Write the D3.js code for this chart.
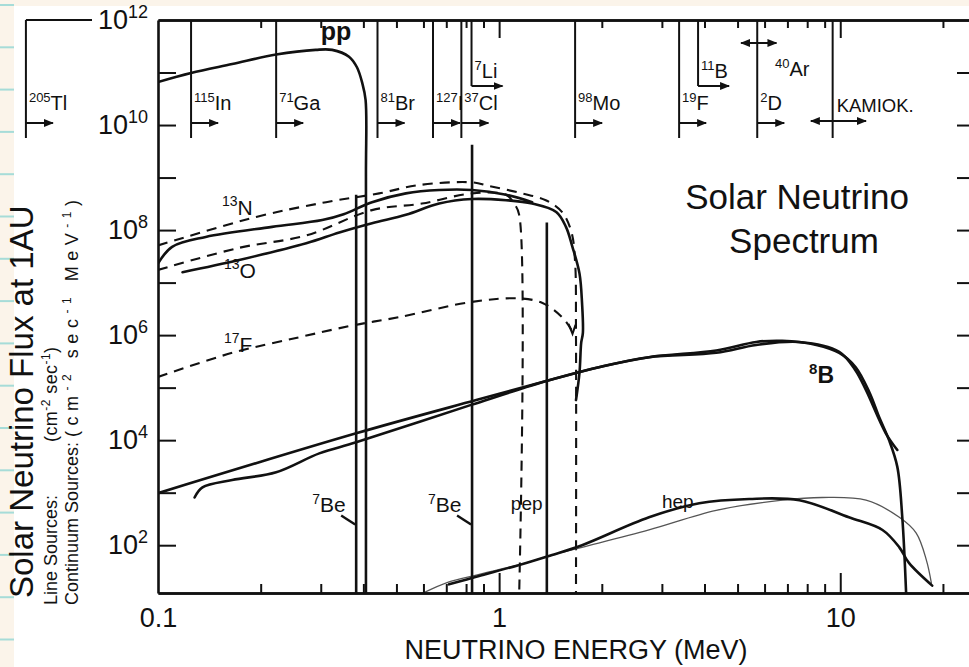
<!DOCTYPE html>
<html>
<head>
<meta charset="utf-8">
<script src="https://cdn.jsdelivr.net/npm/d3@7"></script>
<style>
body{margin:0;background:#fbf4ea;}
svg{display:block;font-family:"Liberation Sans",Arial,sans-serif;}
.curve{fill:none;stroke:#111;stroke-width:2.6;stroke-linejoin:round;stroke-linecap:round;}
.dashed{stroke-width:2.1;stroke-dasharray:10,7;stroke-linecap:butt;}
.thin{stroke:#555;stroke-width:1.3;}
.mark{stroke:#111;stroke-width:2;fill:none;}
text{fill:#111;}
</style>
</head>
<body>
<svg></svg>
<script>
// energies in MeV, fluxes in cm^-2 s^-1 (MeV^-1)
var energyRange = [0.1, 25];
var fluxRange = [12.3, 1e12];

var minorEnergyTicks = [0.2,0.3,0.4,0.5,0.6,0.7,0.8,0.9,2,3,4,5,6,7,8,9,20];
var majorEnergyTicks = [1,10];
var energyLabelTicks = [0.1,1,10];
var energyTickLabels = ["0.1","1","10"];
var decadeTicks = [1e2,1e3,1e4,1e5,1e6,1e7,1e8,1e9,1e10,1e11];
var fluxLabelTicks = [1e2,1e4,1e6,1e8,1e10,1e12];

// continuum spectra [energy, flux]
var ppSpectrum = [[0.1,6.6e10],[0.125,9.8e10],[0.165,1.45e11],[0.222,2.2e11],[0.29,2.7e11],[0.324,2.7e11],[0.363,2.0e11],[0.383,1.26e11],[0.397,6.3e10],[0.406,3.0e10],[0.407,1e9],[0.407,12]];
var o15Dashed = [[0.1,5.1e7],[0.194,1.78e8],[0.311,3.4e8],[0.445,5.0e8],[0.582,7.2e8],[0.833,8.1e8],[0.935,6.9e8],[1.168,5.0e8],[1.37,3.7e8],[1.53,2.2e8],[1.63,9.1e7],[1.67,2.45e7],[1.68,1e6],[1.68,12]];
var n13Dashed = [[0.1,1.74e7],[0.173,4.6e7],[0.272,7.9e7],[0.424,2.4e8],[0.594,3.2e8],[0.833,5.0e8],[1.048,4.7e8],[1.106,3.2e8],[1.145,1.95e8],[1.145,12]];
var f17Dashed = [[0.1,1.6e5],[0.165,4.6e5],[0.259,9.1e5],[0.376,1.55e6],[0.509,2.2e6],[0.833,4.3e6],[1.145,5.0e6],[1.34,4.1e6],[1.53,2.2e6],[1.63,1.26e6]];
var n13Drawn = [[0.1,2.3e7],[0.11,4.8e7],[0.138,7.4e7],[0.216,1.15e8],[0.303,1.55e8],[0.35,2.0e8],[0.424,3.4e8],[0.533,5.0e8],[0.667,5.8e8],[0.833,5.8e8],[1.048,4.7e8],[1.25,3.4e8]];
var o15Drawn = [[0.118,1.58e7],[0.173,2.7e7],[0.272,5.6e7],[0.34,9e7],[0.424,1.35e8],[0.533,1.95e8],[0.667,3.2e8],[0.833,3.9e8],[1.048,3.7e8],[1.25,3.2e8],[1.47,2.2e8],[1.57,1.15e8],[1.64,4.8e7],[1.72,1.5e7],[1.75,4.1e6],[1.76,1.1e6],[1.74,7.1e5],[1.72,1.9e5],[1.68,5.8e4]];
var b8Spectrum = [[0.1,9.8e2],[0.381,1.35e4],[0.857,5.8e4],[1.4,1.38e5],[1.96,2.45e5],[2.75,3.8e5],[4.33,5.1e5],[5.67,7.4e5],[6.76,7.8e5],[8.51,6.5e5],[9.93,4.6e5],[11.1,2.45e5],[12.2,7.9e4],[13.0,2.75e4],[13.9,1.0e4],[14.7,3.1e3],[15.2,3.4e2],[15.6,12]];
var b8Drawn = [[0.128,8.1e2],[0.135,1.26e3],[0.165,1.74e3],[0.222,2.45e3],[0.297,5.6e3],[0.381,9.1e3],[0.828,4.7e4],[1.4,1.38e5],[1.96,2.45e5],[2.75,3.8e5],[4.33,4.6e5],[5.67,6.5e5],[7.59,7.4e5],[9.93,4.8e5],[11.1,2.1e5],[11.9,8.9e4],[13.6,1.35e4],[14.7,6.5e3]];
var hepSpectrum = [[0.594,12],[0.713,20],[0.857,27],[1.2,46],[1.43,65],[1.75,91],[2.75,1.95e2],[4.33,4.6e2],[6.76,7.2e2],[8.85,8.1e2],[11.9,7.2e2],[14.9,3.4e2],[16.7,1.7e2],[17.9,51],[18.5,19]];
var hepDrawn = [[0.713,18],[0.857,25],[1.2,46],[1.43,65],[1.75,1.0e2],[2.75,3.4e2],[3.86,6.3e2],[5.41,7.6e2],[7.59,7.2e2],[10.6,3.4e2],[13.3,1.95e2],[14.9,91],[15.9,46],[18.6,17]];

// line sources
var lineIso = ["7","7",""];
var lineNames = ["Be","Be","pep"];
var lineEnergies = [0.381,0.833,1.38];
var lineFluxes = [4.7e8,4.2e9,1.4e8];

// detector thresholds (top band)
var thresholdIso = ["205","115","71","81","127","37","98","19","2"];
var thresholdEl = ["Tl","In","Ga","Br","I","Cl","Mo","F","D"];
var thresholdMeV = [0.041,0.125,0.222,0.44,0.64,0.775,1.67,3.37,5.71];
var upperIso = ["7","11"];
var upperEl = ["Li","B"];
var upperMeV = [0.83,3.83];
var argonRange = [5.12,6.5];
var kamiokaMeV = 9.5;
var kamiokaRange = [8.2,11.9];

var makeTranslateString = function(x,y)
{
    return "translate("+x+","+y+")";
}

// text with a raised mass number in front
var isoLabel = function(target,x,y,iso,el,size)
{
    var t = target.append("text")
        .attr("x",x)
        .attr("y",y)
        .attr("font-size",size);
    if(iso)
    {
        t.append("tspan").attr("font-size",Math.round(size*0.65))
            .attr("dy",-size*0.42).text(iso);
        t.append("tspan").attr("dy",size*0.42).text(el);
    }
    else { t.text(el); }
    return t;
}

var drawPaper = function(screen)
{
    var svg = d3.select("svg");
    svg.append("rect").attr("width",screen.width).attr("height",screen.height).attr("fill","#fbf4ea");
    svg.selectAll("line.rule")
        .data(d3.range(5,screen.height,42.3))
        .enter()
        .append("line")
        .classed("rule",true)
        .attr("x1",0).attr("x2",14)
        .attr("y1",function(d){return d;}).attr("y2",function(d){return d;})
        .attr("stroke","#a6dcd8").attr("stroke-width",2);
    svg.append("rect").attr("x",14).attr("y",6)
        .attr("width",screen.width-14).attr("height",screen.height-6)
        .attr("fill","#ffffff");
}

var drawAxes = function(graph,margins,xScale,yScale)
{
    var svg = d3.select("svg");
    var axes = svg.append("g").classed("axes",true);
    var bottom = margins.top+graph.height;
    var right = margins.left+graph.width;

    axes.append("g").attr("transform",makeTranslateString(0,bottom))
        .call(d3.axisBottom(xScale).tickValues(minorEnergyTicks).tickSize(-9).tickSizeOuter(0).tickFormat(""));
    axes.append("g").attr("transform",makeTranslateString(0,bottom))
        .call(d3.axisBottom(xScale).tickValues(majorEnergyTicks).tickSize(-20).tickSizeOuter(0).tickFormat(""));
    axes.append("g").attr("transform",makeTranslateString(0,margins.top))
        .call(d3.axisTop(xScale).tickValues(minorEnergyTicks).tickSize(-8).tickSizeOuter(0).tickFormat(""));
    axes.append("g").attr("transform",makeTranslateString(0,margins.top))
        .call(d3.axisTop(xScale).tickValues(majorEnergyTicks).tickSize(-18).tickSizeOuter(0).tickFormat(""));
    axes.append("g").attr("transform",makeTranslateString(margins.left,0))
        .call(d3.axisLeft(yScale).tickValues(decadeTicks).tickSize(-18).tickSizeOuter(0).tickFormat(""));
    axes.append("g").attr("transform",makeTranslateString(right,0))
        .call(d3.axisRight(yScale).tickValues(decadeTicks).tickSize(-19).tickSizeOuter(0).tickFormat(""));

    axes.selectAll("path.domain").attr("stroke","#111").attr("stroke-width",2.6);
    axes.selectAll(".tick line").attr("stroke","#111").attr("stroke-width",2);

    // tick labels
    var xLab = axes.append("g").attr("transform",makeTranslateString(0,bottom))
        .call(d3.axisBottom(xScale).tickValues(energyLabelTicks)
              .tickFormat(function(d,i){return energyTickLabels[i];})
              .tickSize(0).tickPadding(15));
    xLab.select(".domain").remove();
    xLab.selectAll("text").attr("font-size",27).attr("font-family","Liberation Sans, Arial, sans-serif").attr("fill","#111");

    var yLab = axes.append("g").attr("transform",makeTranslateString(margins.left,0))
        .call(d3.axisLeft(yScale).tickValues(fluxLabelTicks).tickFormat("")
              .tickSize(0).tickPadding(10));
    yLab.select(".domain").remove();
    yLab.selectAll("text")
        .attr("font-size",27)
        .attr("font-family","Liberation Sans, Arial, sans-serif")
        .attr("fill","#111")
        .each(function(d)
        {
            var t = d3.select(this);
            t.append("tspan").text("10");
            t.append("tspan").attr("font-size",18).attr("dy",-11)
                .text(Math.round(Math.log10(d)));
        });
}

var drawThresholds = function(margins,xScale)
{
    var band = d3.select("svg").append("g").classed("thresholds",true);
    var top = margins.top;

    // extension of the top frame out to the Tl line
    band.append("line").classed("mark",true)
        .attr("x1",xScale(thresholdMeV[0])).attr("x2",92)
        .attr("y1",top).attr("y2",top).attr("stroke-width",2.6);

    var th = band.selectAll("g.th")
        .data(thresholdMeV)
        .enter()
        .append("g")
        .classed("th",true)
        .attr("transform",function(d){return makeTranslateString(xScale(d),0);});
    th.append("line").classed("mark",true)
        .attr("x1",0).attr("x2",0).attr("y1",top).attr("y2",138);
    th.append("line").classed("mark",true)
        .attr("x1",0).attr("x2",27).attr("y1",123).attr("y2",123)
        .attr("marker-end","url(#head)");
    th.each(function(d,i)
    {
        isoLabel(d3.select(this),3,110,thresholdIso[i],thresholdEl[i],20);
    });

    var up = band.selectAll("g.up")
        .data(upperMeV)
        .enter()
        .append("g")
        .classed("up",true)
        .attr("transform",function(d){return makeTranslateString(xScale(d),0);});
    up.append("line").classed("mark",true)
        .attr("x1",0).attr("x2",0).attr("y1",top).attr("y2",86);
    up.append("line").classed("mark",true)
        .attr("x1",0).attr("x2",31).attr("y1",86).attr("y2",86)
        .attr("marker-end","url(#head)");
    up.each(function(d,i)
    {
        isoLabel(d3.select(this),3,78,upperIso[i],upperEl[i],20);
    });

    // 40Ar range
    band.append("line").classed("mark",true)
        .attr("x1",xScale(argonRange[0])).attr("x2",xScale(argonRange[1]))
        .attr("y1",43).attr("y2",43)
        .attr("marker-start","url(#headback)").attr("marker-end","url(#head)");
    isoLabel(band,xScale(argonRange[0])+34,76,"40","Ar",20);

    // Kamiokande
    var kx = xScale(kamiokaMeV);
    band.append("line").classed("mark",true)
        .attr("x1",kx).attr("x2",kx).attr("y1",top).attr("y2",138);
    band.append("line").classed("mark",true)
        .attr("x1",xScale(kamiokaRange[0])).attr("x2",xScale(kamiokaRange[1]))
        .attr("y1",121).attr("y2",121)
        .attr("marker-start","url(#headback)").attr("marker-end","url(#head)");
    band.append("text").attr("x",kx+4).attr("y",112).attr("font-size",18.5).text("KAMIOK.");
}

var drawLines = function(target,xScale,yScale)
{
    var lineGenerator = d3.line()
        .x(function(d){return xScale(d[0]);})
        .y(function(d){return yScale(d[1]);})
        .curve(d3.curveCatmullRom.alpha(0.5));

    var curves = [
        {data:o15Dashed,cls:"dashed"},
        {data:n13Dashed,cls:"dashed"},
        {data:f17Dashed,cls:"dashed"},
        {data:hepSpectrum,cls:"thin"},
        {data:ppSpectrum,cls:""},
        {data:n13Drawn,cls:""},
        {data:o15Drawn,cls:""},
        {data:b8Spectrum,cls:"",w:3.2},
        {data:b8Drawn,cls:""},
        {data:hepDrawn,cls:""}
    ];

    target.selectAll("path.curve")
        .data(curves)
        .enter()
        .append("path")
        .attr("class",function(c){return "curve "+c.cls;})
        .attr("stroke-width",function(c){return c.w ? c.w : null;})
        .attr("d",function(c){return lineGenerator(c.data);});

    // line sources
    target.selectAll("line.source")
        .data(lineEnergies)
        .enter()
        .append("line")
        .classed("source",true)
        .attr("x1",function(d){return xScale(d);})
        .attr("x2",function(d){return xScale(d);})
        .attr("y1",yScale(fluxRange[0]))
        .attr("y2",function(d,i){return yScale(lineFluxes[i]);})
        .attr("stroke","#111")
        .attr("stroke-width",2.6);

    // little v at the end of 17F
    var last = f17Dashed[f17Dashed.length-1];
    var vx = xScale(last[0]), vy = yScale(last[1]);
    target.append("path").classed("mark",true)
        .attr("d","M"+(vx-3)+","+(vy-6)+"L"+(vx+1)+","+(vy+4)+"L"+(vx+4)+","+(vy-5));
}

var drawLabels = function(graph,margins,xScale,yScale)
{
    var svg = d3.select("svg");
    var labels = svg.append("g").classed("labels",true);

    // curve names
    isoLabel(labels,xScale(0.154),yScale(1.95e8),"13","N",21);
    isoLabel(labels,xScale(0.156),yScale(1.23e7),"13","O",21);
    isoLabel(labels,xScale(0.156),yScale(4.8e5),"17","F",21);
    labels.append("text").attr("x",xScale(0.30)).attr("y",yScale(4.2e11))
        .attr("font-size",25).attr("font-weight","bold").text("pp");
    isoLabel(labels,xScale(8.1),yScale(1.2e5),"8","B",23).attr("font-weight","bold");
    labels.append("text").attr("x",xScale(3.0)).attr("y",yScale(5.2e2))
        .attr("font-size",19).text("hep");

    // line source names, with the little pointers
    var baseY = yScale(4.2e2);
    lineEnergies.forEach(function(e,i)
    {
        var lx = xScale(e);
        if(lineIso[i])
        {
            isoLabel(labels,lx-44,baseY,lineIso[i],lineNames[i],21);
            labels.append("line").attr("x1",lx-15).attr("y1",baseY+3)
                .attr("x2",lx-1).attr("y2",baseY+12)
                .attr("stroke","#111").attr("stroke-width",2.4);
        }
        else
        {
            labels.append("text").attr("x",lx-36).attr("y",baseY-2)
                .attr("font-size",19).text(lineNames[i]);
        }
    });

    labels.append("text")
        .text("NEUTRINO ENERGY (MeV)")
        .attr("text-anchor","middle")
        .attr("font-size",27)
        .attr("x",576)
        .attr("y",659);

    labels.append("text").text("Solar Neutrino")
        .attr("text-anchor","middle").attr("font-size",35)
        .attr("x",797).attr("y",209);
    labels.append("text").text("Spectrum")
        .attr("text-anchor","middle").attr("font-size",35)
        .attr("x",804).attr("y",253);

    // rotated y titles
    var yt = labels.append("g").attr("transform","rotate(-90)");
    yt.append("text").text("Solar Neutrino Flux at 1AU")
        .attr("font-size",33).attr("x",-598).attr("y",33);
    yt.append("text").text("Line Sources:")
        .attr("font-size",18).attr("x",-605).attr("y",57);
    yt.append("text").text("Continuum Sources:")
        .attr("font-size",18).attr("x",-605).attr("y",78);

    var unitParts = function(x,y,parts,len)
    {
        var t = yt.append("text").attr("x",x).attr("y",y).attr("font-size",18);
        parts.forEach(function(p)
        {
            t.append("tspan").attr("font-size",p[1]?12:18)
                .attr("dy",p[1]?-7:(p[2]?7:0)).text(p[0]);
        });
        if(len) { t.attr("textLength",len).attr("lengthAdjust","spacing"); }
    }
    unitParts(-442,57,[["(cm",0],["-2",1],[" sec",0,1],["-1",1],[")",0,1]],95);
    unitParts(-437,78,[["(cm",0],["-2",1],[" sec",0,1],["-1",1],[" MeV",0,1],["-1",1],[")",0,1]],237);
}

var initGraph = function()
{
    var screen = {width:969,height:667};
    var margins = {left:158,right:-7,top:20,bottom:74};
    var graph =
        {
            width:screen.width-margins.left-margins.right,
            height:screen.height-margins.top-margins.bottom
        };

    var svg = d3.select("svg")
        .attr("width",screen.width)
        .attr("height",screen.height);

    drawPaper(screen);

    var defs = svg.append("defs");
    defs.append("marker").attr("id","head")
        .attr("markerUnits","userSpaceOnUse")
        .attr("markerWidth",10).attr("markerHeight",8)
        .attr("refX",9).attr("refY",4).attr("orient","auto")
        .append("path").attr("d","M0,0L10,4L0,8Z").attr("fill","#111");
    defs.append("marker").attr("id","headback")
        .attr("markerUnits","userSpaceOnUse")
        .attr("markerWidth",10).attr("markerHeight",8)
        .attr("refX",1).attr("refY",4).attr("orient","auto")
        .append("path").attr("d","M10,0L0,4L10,8Z").attr("fill","#111");
    defs.append("clipPath").attr("id","plotclip")
        .append("rect").attr("x",margins.left).attr("y",margins.top)
        .attr("width",graph.width).attr("height",graph.height);

    var xScale = d3.scaleLog()
        .domain(energyRange)
        .range([margins.left,margins.left+graph.width]);
    var yScale = d3.scaleLog()
        .domain(fluxRange)
        .range([margins.top+graph.height,margins.top]);

    var target = svg.append("g")
        .attr("id","graph")
        .attr("clip-path","url(#plotclip)");

    drawLines(target,xScale,yScale);
    drawAxes(graph,margins,xScale,yScale);
    drawThresholds(margins,xScale);
    drawLabels(graph,margins,xScale,yScale);
}

initGraph();
</script>
</body>
</html>
